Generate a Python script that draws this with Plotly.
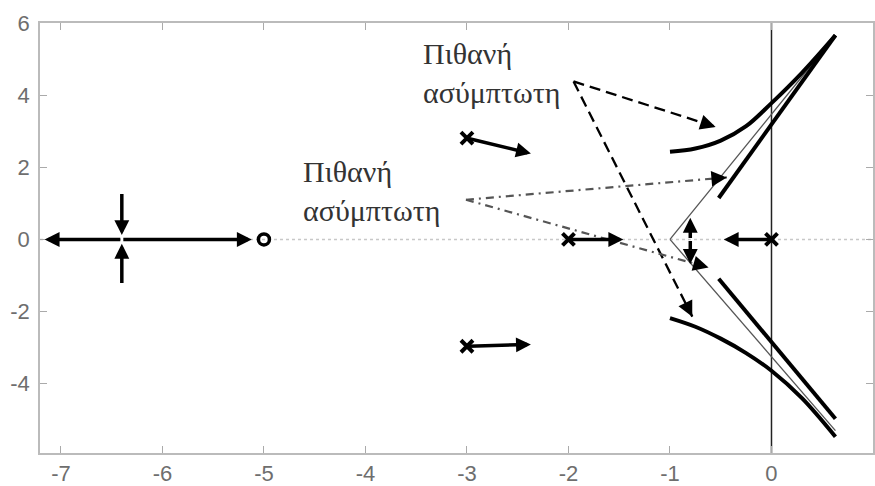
import plotly.graph_objects as go

# ---- Open-loop poles and zero -------------------------------------------
pole_re = [-3.0, -3.0, -2.0, 0.0]
pole_im = [2.81, -2.96, 0.0, 0.0]
zero_re = [-5.0]
zero_im = [0.0]

# ---- Sketched root-locus branches (right half) ---------------------------
upper_curve_re = [-1.0, -0.75, -0.5, -0.25, 0.0, 0.3, 0.63]
upper_curve_im = [2.43, 2.52, 2.74, 3.14, 3.78, 4.62, 5.66]
upper_line_re = [-0.52, 0.63]
upper_line_im = [1.15, 5.66]
lower_curve_re = [-1.0, -0.75, -0.5, -0.25, 0.0, 0.3, 0.63]
lower_curve_im = [-2.18, -2.42, -2.75, -3.15, -3.64, -4.40, -5.47]
lower_line_re = [-0.52, 0.63]
lower_line_im = [-1.09, -4.97]

# ---- Asymptote guides from the centroid ----------------------------------
asym_up_re = [-1.0, 0.60]
asym_up_im = [0.0, 5.55]
asym_dn_re = [-1.0, 0.63]
asym_dn_im = [0.0, -5.30]

# ---- Direction-of-travel arrows (tail -> head) ---------------------------
arrow_tail_re = [-6.4, -6.4, -6.4, -6.4, -3.0, -3.0, -2.0, 0.0, -0.80, -0.80]
arrow_tail_im = [0.0, 0.0, 1.30, -1.25, 2.81, -2.96, 0.0, 0.0, 0.0, 0.0]
arrow_head_re = [-7.16, -5.12, -6.4, -6.4, -2.37, -2.37, -1.46, -0.47, -0.80, -0.80]
arrow_head_im = [0.0, 0.0, 0.12, -0.12, 2.38, -2.91, 0.0, 0.0, 0.60, -0.68]

# ---- Callout pointers for the two labels ---------------------------------
dash_start = (-1.95, 4.38)
dash_tips_re = [-0.55, -0.78]
dash_tips_im = [3.12, -2.14]
dashdot_start = (-3.01, 1.10)
dashdot_tips_re = [-0.44, -0.62]
dashdot_tips_im = [1.72, -0.78]

label_text = "Πιθανή<br>ασύμπτωτη"

# ---- Axes ticks ----------------------------------------------------------
x_ticks = [-7, -6, -5, -4, -3, -2, -1, 0, 1]
x_tick_text = ["-7", "-6", "-5", "-4", "-3", "-2", "-1", "0", "1"]
y_ticks = [-4, -2, 0, 2, 4, 6]
y_tick_text = ["-4", "-2", "0", "2", "4", "6"]

fig = go.Figure()

# asymptotes (thin grey)
for xs, ys in [(asym_up_re, asym_up_im), (asym_dn_re, asym_dn_im)]:
    fig.add_trace(go.Scatter(x=xs, y=ys, mode="lines",
                             line=dict(color="#555555", width=1.3),
                             hoverinfo="skip"))

# locus branches (thick black)
for xs, ys, shape in [(upper_curve_re, upper_curve_im, "spline"),
                      (upper_line_re, upper_line_im, "linear"),
                      (lower_curve_re, lower_curve_im, "spline"),
                      (lower_line_re, lower_line_im, "linear")]:
    fig.add_trace(go.Scatter(x=xs, y=ys, mode="lines",
                             line=dict(color="black", width=4, shape=shape),
                             hoverinfo="skip"))

# dashed callouts
for tx, ty in zip(dash_tips_re, dash_tips_im):
    fig.add_trace(go.Scatter(x=[dash_start[0], tx], y=[dash_start[1], ty],
                             mode="lines",
                             line=dict(color="black", width=2.3, dash="11px,6px"),
                             hoverinfo="skip"))
# dash-dot callouts
for tx, ty in zip(dashdot_tips_re, dashdot_tips_im):
    fig.add_trace(go.Scatter(x=[dashdot_start[0], tx], y=[dashdot_start[1], ty],
                             mode="lines",
                             line=dict(color="#555555", width=2.2,
                                       dash="8px,5px,2px,5px"),
                             hoverinfo="skip"))

# poles and zero
fig.add_trace(go.Scatter(x=pole_re, y=pole_im, mode="markers",
                         marker=dict(symbol="x-thin", size=12, color="black",
                                     line=dict(width=4, color="black")),
                         hoverinfo="skip"))
fig.add_trace(go.Scatter(x=zero_re, y=zero_im, mode="markers",
                         marker=dict(symbol="circle-open", size=11, color="black",
                                     line=dict(width=3.5, color="black")),
                         hoverinfo="skip"))

annotations = []
# thick direction arrows
for x0, y0, x1, y1 in zip(arrow_tail_re, arrow_tail_im, arrow_head_re, arrow_head_im):
    annotations.append(dict(x=x1, y=y1, ax=x0, ay=y0, xref="x", yref="y",
                            axref="x", ayref="y", text="", showarrow=True,
                            arrowhead=2, arrowsize=0.85, arrowwidth=3.5,
                            arrowcolor="black"))


def pointer_head(start, tx, ty, frac=0.06):
    # short solid segment ending at the tip so the arrowhead follows the line
    bx = tx - frac * (tx - start[0])
    by = ty - frac * (ty - start[1])
    return dict(x=tx, y=ty, ax=bx, ay=by, xref="x", yref="y",
                axref="x", ayref="y", text="", showarrow=True,
                arrowhead=2, arrowsize=1.4, arrowwidth=2.2,
                arrowcolor="black")


for tx, ty in zip(dash_tips_re, dash_tips_im):
    annotations.append(pointer_head(dash_start, tx, ty))
for tx, ty in zip(dashdot_tips_re, dashdot_tips_im):
    annotations.append(pointer_head(dashdot_start, tx, ty))

label_font = dict(family="Liberation Serif", size=30, color="#333333")
annotations.append(dict(x=-3.45, y=4.62, xref="x", yref="y", text=label_text,
                        showarrow=False, xanchor="left", yanchor="middle",
                        align="left", font=label_font))
annotations.append(dict(x=-4.63, y=1.33, xref="x", yref="y", text=label_text,
                        showarrow=False, xanchor="left", yanchor="middle",
                        align="left", font=label_font))

shapes = [
    dict(type="line", xref="paper", yref="y", x0=0, x1=1, y0=0, y1=0,
         line=dict(color="#c8c8c8", width=1.5, dash="dot"), layer="below"),
    dict(type="line", xref="x", yref="paper", x0=0, x1=0, y0=0, y1=1,
         line=dict(color="#222222", width=1.5), layer="below"),
]

tick_font = dict(family="Liberation Sans", size=22, color="#6e6e6e")
fig.update_layout(
    width=875, height=486, autosize=False,
    margin=dict(l=40, r=0, t=23, b=28),
    paper_bgcolor="white", plot_bgcolor="white",
    showlegend=False,
    annotations=annotations, shapes=shapes,
    xaxis=dict(range=[-7.206, 1.0], tickvals=x_ticks, ticktext=x_tick_text,
               ticks="inside", ticklen=7, tickcolor="#aaaaaa", tickwidth=1,
               showline=True, linecolor="#bbbbbb", linewidth=1.5, mirror="ticks",
               showgrid=False, zeroline=False, tickfont=tick_font),
    yaxis=dict(range=[-5.92, 6.0], tickvals=y_ticks, ticktext=y_tick_text,
               ticks="inside", ticklen=7, tickcolor="#aaaaaa", tickwidth=1,
               showline=True, linecolor="#bbbbbb", linewidth=1.5, mirror="ticks",
               showgrid=False, zeroline=False, tickfont=tick_font,
               ticklabelstandoff=4),
)

fig.write_html("out.html", config={"displayModeBar": False})
